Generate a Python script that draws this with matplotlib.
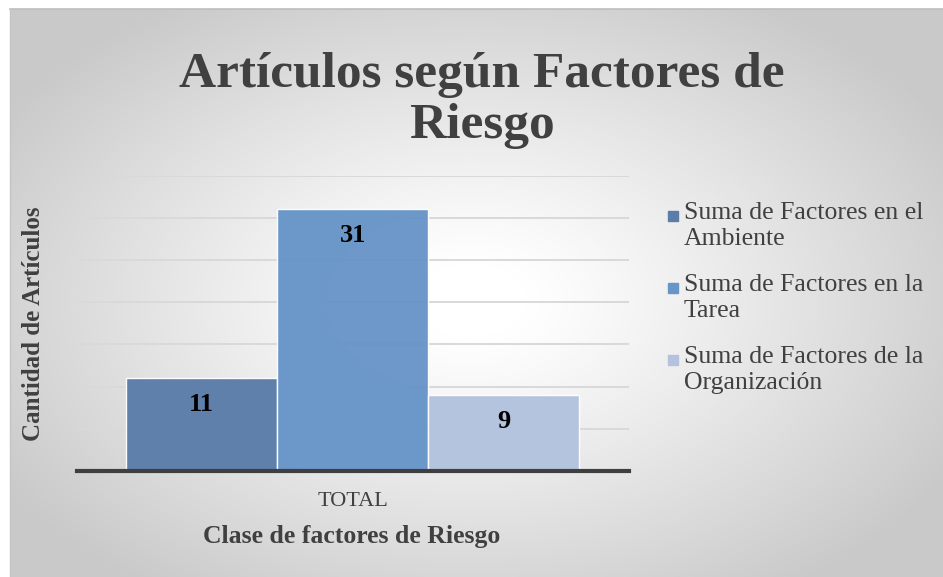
import matplotlib
matplotlib.use("Agg")
import matplotlib.pyplot as plt
import numpy as np
from matplotlib.patches import Rectangle

W, H = 943, 577

title = "Artículos según Factores de\nRiesgo"
category = ["TOTAL"]
series = ["Suma de Factores en el Ambiente",
          "Suma de Factores en la Tarea",
          "Suma de Factores de la Organización"]
legend_labels = ["Suma de Factores en el\nAmbiente",
                 "Suma de Factores en la\nTarea",
                 "Suma de Factores de la\nOrganización"]
values = [11, 31, 9]
colors = ["#5a7da9", "#6895c8", "#b3c3de"]
y_ticks = [0, 5, 10, 15, 20, 25, 30, 35]

SERIF = "Liberation Serif"
TXT = "#404040"

fig = plt.figure(figsize=(W / 100, H / 100), dpi=100)
fig.patch.set_facecolor("white")


def px(x, y):
    """pixel coords (top-left origin) -> figure fraction"""
    return x / W, 1 - y / H


# chart area with radial grey gradient
bx0, by0 = 10, 9
bg = fig.add_axes([bx0 / W, 0, (W - bx0) / W, (H - by0) / H])
xx, yy = np.meshgrid(np.arange(bx0, W), np.arange(by0, H))
d = np.sqrt(((xx - 470) / 470.0) ** 2 + ((yy - 300) / 300.0) ** 2)
g = 1 - 0.21 * np.clip((d - 0.12) / 1.05, 0, 1) ** 1.1
bg.imshow(np.dstack([g, g, g]), aspect="auto", interpolation="bilinear")
bg.set_axis_off()
fig.lines.append(plt.Line2D([bx0 / W, 1], [1 - by0 / H] * 2, transform=fig.transFigure,
                            color="#bdbdbd", lw=1.2))
fig.lines.append(plt.Line2D([bx0 / W] * 2, [0, 1 - by0 / H], transform=fig.transFigure,
                            color="#c4c4c4", lw=1.0))

# plot area
ax_l, ax_r, ax_t, ax_b = 76.5, 629, 175.7, 471
ax = fig.add_axes([ax_l / W, 1 - ax_b / H, (ax_r - ax_l) / W, (ax_b - ax_t) / H])
ax.patch.set_alpha(0)
n = len(series)
width = 151 / (ax_r - ax_l)
x0 = np.arange(len(category))
for i, (name, v, c) in enumerate(zip(series, values, colors)):
    xpos = x0 + (i - (n - 1) / 2) * width
    bars = ax.bar(xpos, [v], width=width, color=c, edgecolor=(1, 1, 1, 0.55),
                  linewidth=1.0, alpha=0.97, zorder=3, label=name)
    for b in bars:
        ax.annotate(f"{v}", xy=(b.get_x() + b.get_width() / 2, b.get_height()),
                    xytext=(0, -19), textcoords="offset points",
                    ha="center", va="center", fontsize=19, fontweight="bold",
                    family=SERIF, color="black", zorder=4)

ax.set_xlim(-0.5, 0.5)
ax.set_ylim(0, 35)
ax.set_yticks(y_ticks)
ax.set_yticklabels([])
ax.tick_params(axis="y", length=0)
ax.set_xticks(x0)
ax.set_xticklabels(category, family=SERIF, fontsize=16, color=TXT)
ax.tick_params(axis="x", length=0, pad=15)
ax.grid(axis="y", color="#d9d9d9", lw=1.4, zorder=0)
for s in ["top", "right", "left"]:
    ax.spines[s].set_visible(False)
ax.spines["bottom"].set_color("#3f3f3f")
ax.spines["bottom"].set_linewidth(3)
ax.spines["bottom"].set_zorder(5)

fig.text(*px(482, 52), title, ha="center", va="top", fontsize=37,
         fontweight="bold", family=SERIF, color=TXT, linespacing=1.13)
fig.text(*px(352, 537), "Clase de factores de Riesgo", ha="center", va="center",
         fontsize=18.5, fontweight="bold", family=SERIF, color=TXT)
fig.text(*px(34, 324), "Cantidad de Artículos", ha="center", va="center",
         rotation=90, fontsize=18, fontweight="bold", family=SERIF, color=TXT)

# legend
for i, (lab, c) in enumerate(zip(legend_labels, colors)):
    top = 202 + 72 * i
    fig.patches.append(Rectangle(px(668, top + 19), 10 / W, 10 / H,
                                 transform=fig.transFigure, color=c))
    fig.text(*px(684, top), lab, ha="left", va="top",
             fontsize=18.5, family=SERIF, color=TXT, linespacing=1.25)

fig.savefig("out.png", dpi=100)
